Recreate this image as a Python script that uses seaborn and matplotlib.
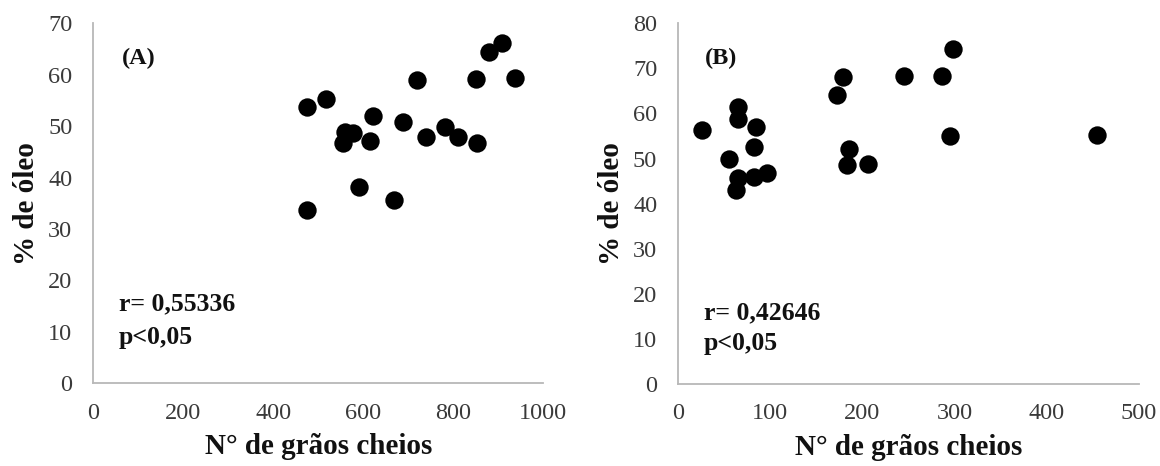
import matplotlib
matplotlib.use("Agg")
import matplotlib.pyplot as plt
import seaborn as sns
import pandas as pd

# Panel A data
graos_a = [474, 516, 474, 719, 621, 689, 559, 578, 554, 615,
           591, 668, 739, 782, 811, 852, 850, 879, 908, 937]
oleo_a = [53.7, 55.3, 33.6, 59.0, 52.0, 50.9, 48.9, 48.6, 46.7, 47.2,
          38.2, 35.6, 47.9, 49.9, 47.8, 46.8, 59.2, 64.4, 66.2, 59.3]

# Panel B data
graos_b = [26, 55, 65, 65, 85, 82, 65, 63, 82, 97,
           172, 179, 185, 183, 206, 245, 286, 298, 295, 454]
oleo_b = [56.3, 49.8, 61.5, 58.7, 57.1, 52.6, 45.6, 43.0, 46.0, 46.7,
          64.1, 68.2, 52.1, 48.6, 48.7, 68.3, 68.3, 74.2, 55.0, 55.2]

xticks_a = [0, 200, 400, 600, 800, 1000]
yticks_a = [0, 10, 20, 30, 40, 50, 60, 70]
xticks_b = [0, 100, 200, 300, 400, 500]
yticks_b = [0, 10, 20, 30, 40, 50, 60, 70, 80]

sns.set_theme(style="white")
plt.rcParams['font.family'] = ['Liberation Serif', 'DejaVu Serif']

fig = plt.figure(figsize=(11.6, 4.66), dpi=100)
ax_a = fig.add_axes([0.0804, 0.1775, 0.388, 0.7725])
ax_b = fig.add_axes([0.5845, 0.176, 0.3974, 0.774])

df_a = pd.DataFrame({"x": graos_a, "y": oleo_a})
df_b = pd.DataFrame({"x": graos_b, "y": oleo_b})

spine_c = "#b8b8b8"
tick_c = "#3a3a3a"

def style(ax, xt, yt, label, rtxt, pos_lab, pos_r, pos_p):
    ax.set_xlim(xt[0], xt[-1])
    ax.set_ylim(yt[0], yt[-1])
    ax.set_xticks(xt)
    ax.set_yticks(yt)
    for s in ["top", "right"]:
        ax.spines[s].set_visible(False)
    for s in ["left", "bottom"]:
        ax.spines[s].set_color(spine_c)
        ax.spines[s].set_linewidth(1.3)
    ax.tick_params(axis="both", which="both", direction="out", length=4,
                   width=1.1, color=spine_c, labelcolor=tick_c, labelsize=17.5)
    ax.tick_params(axis="x", pad=10)
    ax.tick_params(axis="y", pad=11)
    ax.set_xlabel("N° de grãos cheios", fontsize=21, fontweight="bold",
                  color="#111111", labelpad=7)
    ax.set_ylabel("% de óleo", fontsize=21, fontweight="bold",
                  color="#111111", labelpad=6)
    ax.text(pos_lab[0], pos_lab[1], label, fontsize=17.5, fontweight="bold",
            ha="left", va="center", color="#111111")
    ax.text(pos_r[0], pos_r[1], rtxt, fontsize=18.5, fontweight="bold",
            ha="left", va="center", color="#111111")
    ax.text(pos_p[0], pos_p[1], "p<0,05", fontsize=18.5, fontweight="bold",
            ha="left", va="center", color="#111111")
    ax.set_facecolor("white")

sns.scatterplot(data=df_a, x="x", y="y", ax=ax_a, s=175, color="black",
                edgecolor="black", linewidth=0, zorder=3, clip_on=False)
sns.scatterplot(data=df_b, x="x", y="y", ax=ax_b, s=175, color="black",
                edgecolor="black", linewidth=0, zorder=3, clip_on=False)

style(ax_a, xticks_a, yticks_a, "(A)", "r= 0,55336",
      (64, 63.2), (57, 15.5), (57, 8.9))
style(ax_b, xticks_b, yticks_b, "(B)", "r= 0,42646",
      (29, 72.1), (28, 15.8), (28, 9.0))

fig.savefig("out.png", dpi=100, facecolor="white")
